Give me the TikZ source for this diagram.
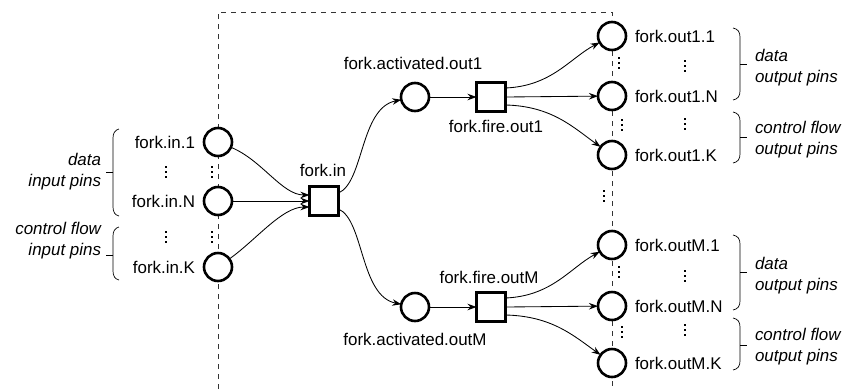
\documentclass[tikz,border=0pt]{standalone}
\usepackage{fontspec}
\setmainfont{Liberation Sans}
\usetikzlibrary{arrows.meta,calc}

% curly bracket opening to the left (for output pins): end x, top y, bottom y, tick y
\newcommand{\outbrace}[4]{%
  \draw[pinbrace] (#1,#2) .. controls (#1+5,#2+1) and (#1+7,#2+4) .. (#1+7,#2+9)
    -- (#1+7,#3-9) .. controls (#1+7,#3-4) and (#1+5,#3-1) .. (#1,#3);
  \draw[pinbrace] (#1+7,#4) -- (#1+14,#4);}
% curly bracket opening to the right (for input pins)
\newcommand{\inbrace}[4]{%
  \draw[pinbrace] (#1,#2) .. controls (#1-4,#2+1) and (#1-6,#2+4) .. (#1-6,#2+9)
    -- (#1-6,#3-9) .. controls (#1-6,#3-4) and (#1-4,#3-1) .. (#1,#3);
  \draw[pinbrace] (#1-6,#4) -- (#1-13,#4);}

\begin{document}
\begin{tikzpicture}[x=1bp,y=-1bp,
  every node/.style={font=\fontsize{17}{21}\selectfont, inner sep=0pt, outer sep=0pt},
  place/.style={circle, draw, line width=2.6bp, fill=white, minimum size=28bp},
  trans/.style={rectangle, draw, line width=2.6bp, fill=white, minimum size=29bp},
  arr/.style={-{Stealth[length=9bp,width=6.5bp]}, line width=0.85bp},
  boundary/.style={line width=1bp, dash pattern=on 5bp off 5bp, black!80},
  pinbrace/.style={line width=0.7bp},
  pinlabel/.style={align=left, font=\fontsize{17}{21}\selectfont\itshape},
  vdots/.pic={\foreach \k in {-5,0,5} \fill (-0.9,\k-1.1) rectangle (0.9,\k+1.1);}]

\useasboundingbox (0,0) rectangle (847,389);

% module boundary
\draw[boundary] (218,389) -- (218,12) -- (612,12) -- (612,389);

% input pins
\node[place] (in1) at (218,142) {};
\node[place] (inN) at (218,201) {};
\node[place] (inK) at (218,267) {};
\node[anchor=east] (lin1) at (195,142) {fork.in.1};
\node[anchor=east] (linN) at (195,201) {fork.in.N};
\node[anchor=east] (linK) at (195,267) {fork.in.K};

% fork transition
\node[trans] (forkin) at (324,201) {};
\node (lforkin) at (323,170) {fork.in};

% first output branch
\node[place] (act1) at (415,97) {};
\node[trans] (fire1) at (491,97) {};
\node (lact1) at (413,63) {fork.activated.out1};
\node (lfire1) at (496,126) {fork.fire.out1};

% last output branch
\node[place] (actM) at (415,307) {};
\node[trans] (fireM) at (491,307) {};
\node (lactM) at (415,339) {fork.activated.outM};
\node (lfireM) at (489,277) {fork.fire.outM};

% output pins
\node[place] (o11) at (612,36) {};
\node[place] (o1N) at (612,96) {};
\node[place] (o1K) at (612,155) {};
\node[place] (oM1) at (612,245) {};
\node[place] (oMN) at (612,306) {};
\node[place] (oMK) at (612,363) {};
\node[anchor=west] (lo11) at (635,36) {fork.out1.1};
\node[anchor=west] (lo1N) at (635,96) {fork.out1.N};
\node[anchor=west] (lo1K) at (635,155) {fork.out1.K};
\node[anchor=west] (loM1) at (635,245) {fork.outM.1};
\node[anchor=west] (loMN) at (635,306) {fork.outM.N};
\node[anchor=west] (loMK) at (635,363) {fork.outM.K};

% arcs into the fork transition
\draw[arr] (in1) .. controls (262,160) and (282,195) .. ($(forkin.west)+(0,-6)$);
\draw[arr] (inN) -- (forkin.west);
\draw[arr] (inK) .. controls (256,240) and (282,207) .. ($(forkin.west)+(0,6)$);

% arcs out of the fork transition
\draw[arr] ($(forkin.east)+(0,-8)$) .. controls (364,182) and (360,108) .. (act1);
\draw[arr] ($(forkin.east)+(0,8)$) .. controls (364,220) and (360,296) .. (actM);

\draw[arr] (act1) -- (fire1);
\draw[arr] (actM) -- (fireM);

\draw[arr] ($(fire1.east)+(0,-9)$) .. controls (552,86) and (570,58) .. (o11);
\draw[arr] (fire1.east) -- (o1N);
\draw[arr] ($(fire1.east)+(0,8)$) .. controls (552,106) and (574,128) .. (o1K);

\draw[arr] ($(fireM.east)+(0,-9)$) .. controls (552,296) and (570,268) .. (oM1);
\draw[arr] (fireM.east) -- (oMN);
\draw[arr] ($(fireM.east)+(0,8)$) .. controls (552,316) and (574,336) .. (oMK);

% elided pins
\pic at (166,172) {vdots};
\pic at (166,237) {vdots};
\pic at (212,172) {vdots};
\pic at (212,237) {vdots};
\pic at (685,66) {vdots};
\pic at (685,124) {vdots};
\pic at (685,276) {vdots};
\pic at (685,330) {vdots};
\pic at (619,63) {vdots};
\pic at (622,125) {vdots};
\pic at (604,196) {vdots};
\pic at (619,272) {vdots};
\pic at (622,332) {vdots};

% pin group brackets
\inbrace{119}{129}{216}{172}
\inbrace{119}{227}{280}{255}
\outbrace{733}{28}{100}{64}
\outbrace{733}{112}{163}{137}
\outbrace{733}{235}{310}{272}
\outbrace{733}{318}{370}{345}

\node[pinlabel, align=right, anchor=east] (gin1) at (101,172) {data\\input pins};
\node[pinlabel, align=right, anchor=east] (gin2) at (101,241) {control flow\\input pins};
\node[pinlabel, anchor=west] (gout1) at (755,68) {data\\output pins};
\node[pinlabel, anchor=west] (gout2) at (755,140) {control flow\\output pins};
\node[pinlabel, anchor=west] (gout3) at (755,276) {data\\output pins};
\node[pinlabel, anchor=west] (gout4) at (755,347) {control flow\\output pins};
\end{tikzpicture}
\end{document}
